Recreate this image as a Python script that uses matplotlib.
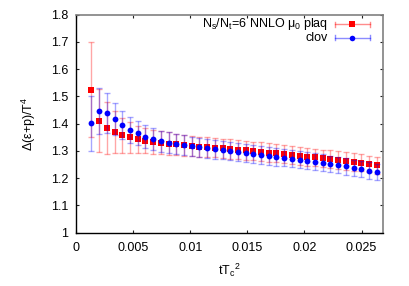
import numpy as np
import matplotlib
matplotlib.use("Agg")
import matplotlib.pyplot as plt

plt.rcParams['font.family'] = ['Liberation Sans', 'DejaVu Sans']
plt.rcParams['mathtext.fontset'] = 'custom'
plt.rcParams['mathtext.rm'] = 'Liberation Sans'
plt.rcParams['mathtext.it'] = 'Liberation Sans'
plt.rcParams['mathtext.bf'] = 'Liberation Sans'

# flow time index -> tTc^2
n_idx = np.arange(2, 40)
x_step = 0.000675
tTc2 = n_idx * x_step

plaq = [1.525, 1.411, 1.384, 1.370, 1.357, 1.350, 1.343, 1.338, 1.334, 1.330,
        1.327, 1.324, 1.321, 1.318, 1.316, 1.314, 1.312, 1.309, 1.307, 1.305,
        1.302, 1.300, 1.297, 1.294, 1.291, 1.288, 1.285, 1.282, 1.279, 1.276,
        1.273, 1.270, 1.266, 1.263, 1.259, 1.256, 1.252, 1.248]
plaq_err = [0.175, 0.115, 0.095, 0.077, 0.063, 0.056, 0.050, 0.046, 0.044, 0.042,
            0.041, 0.040, 0.039, 0.038, 0.037, 0.036, 0.036, 0.035, 0.035, 0.035,
            0.034, 0.034, 0.034, 0.034, 0.033, 0.033, 0.033, 0.033, 0.033, 0.032,
            0.032, 0.032, 0.032, 0.032, 0.032, 0.031, 0.031, 0.031]

clov = [1.401, 1.447, 1.439, 1.417, 1.396, 1.378, 1.365, 1.352, 1.344, 1.335,
        1.330, 1.325, 1.321, 1.317, 1.313, 1.309, 1.306, 1.303, 1.300, 1.296,
        1.293, 1.289, 1.285, 1.282, 1.278, 1.275, 1.271, 1.267, 1.264, 1.260,
        1.256, 1.252, 1.248, 1.243, 1.238, 1.233, 1.228, 1.223]
clov_err = [0.100, 0.083, 0.073, 0.060, 0.052, 0.048, 0.044, 0.042, 0.040, 0.039,
            0.038, 0.037, 0.036, 0.035, 0.035, 0.034, 0.034, 0.034, 0.033, 0.033,
            0.033, 0.033, 0.032, 0.032, 0.032, 0.032, 0.031, 0.031, 0.031, 0.031,
            0.031, 0.030, 0.030, 0.030, 0.030, 0.030, 0.030, 0.030]

xticks = [0, 0.005, 0.01, 0.015, 0.02, 0.025]
xticklabels = ['0', '0.005', '0.01', '0.015', '0.02', '0.025']
yticks = [1.0, 1.1, 1.2, 1.3, 1.4, 1.5, 1.6, 1.7, 1.8]
yticklabels = ['1', '1.1', '1.2', '1.3', '1.4', '1.5', '1.6', '1.7', '1.8']

label_plaq = r'N$_s$/N$_t$=6 NNLO $\mathregular{\mu}_0$ plaq'
label_clov = 'clov'

FS = 9

fig = plt.figure(figsize=(4.09, 2.86), dpi=100)
ax = fig.add_axes([0.1858, 0.1864, 0.7514, 0.7622])

red = '#ff0000'
blue = '#0000ff'

ax.errorbar(tTc2, plaq, yerr=plaq_err, fmt='none', ecolor=red, alpha=0.35,
            elinewidth=1.0, capsize=2.0, capthick=1.0, zorder=2)
ax.plot(tTc2, plaq, 's', color=red, markersize=4.0, markeredgewidth=0, zorder=3)
ax.errorbar(tTc2, clov, yerr=clov_err, fmt='none', ecolor=blue, alpha=0.35,
            elinewidth=1.0, capsize=2.0, capthick=1.0, zorder=4)
ax.plot(tTc2, clov, 'o', color=blue, markersize=4.2, markeredgewidth=0, zorder=5)

ax.set_xlim(0, 0.0269)
ax.set_ylim(1.0, 1.8)
ax.set_xticks(xticks)
ax.set_xticklabels(xticklabels)
ax.set_yticks(yticks)
ax.set_yticklabels(yticklabels)
ax.tick_params(axis='x', pad=6.5)
ax.tick_params(axis='y', pad=5.5)
ax.tick_params(direction='in', length=2.5, width=0.8, labelsize=FS, top=True,
               right=True, colors='#222222', labelcolor='black')
for s in ['top', 'right']:
    ax.spines[s].set_color('#808080')
    ax.spines[s].set_linewidth(1.2)
for s in ['left', 'bottom']:
    ax.spines[s].set_color('black')
    ax.spines[s].set_linewidth(1.0)

ax.set_xlabel(r'tT$_c$$^2$', fontsize=FS, labelpad=6)
ax.set_ylabel(r'$\Delta$($\mathregular{\varepsilon}$+p)/T$^4$', fontsize=FS, labelpad=9)

# gnuplot-style key (top right)
def key_entry(ypix, color, marker, text):
    yf = 1 - ypix / 286.0
    x0, x1, xm = 335 / 409.0, 370 / 409.0, 352 / 409.0
    fig.lines.append(plt.Line2D([x0, x1], [yf, yf], transform=fig.transFigure,
                                color=color, alpha=0.45, lw=1.0))
    for xx in (x0, x1):
        fig.lines.append(plt.Line2D([xx, xx], [yf - 0.008, yf + 0.008],
                                    transform=fig.transFigure, color=color,
                                    alpha=0.45, lw=1.0))
    fig.lines.append(plt.Line2D([xm], [yf], transform=fig.transFigure,
                                marker=marker, color=color, markersize=4.0,
                                markeredgewidth=0))
    fig.text(327.7 / 409.0, yf, text, ha='right', va='center', fontsize=FS)

key_entry(24.3, red, 's', label_plaq)
key_entry(37.7, blue, 'o', label_clov)

fig.savefig('out.png', dpi=100)
